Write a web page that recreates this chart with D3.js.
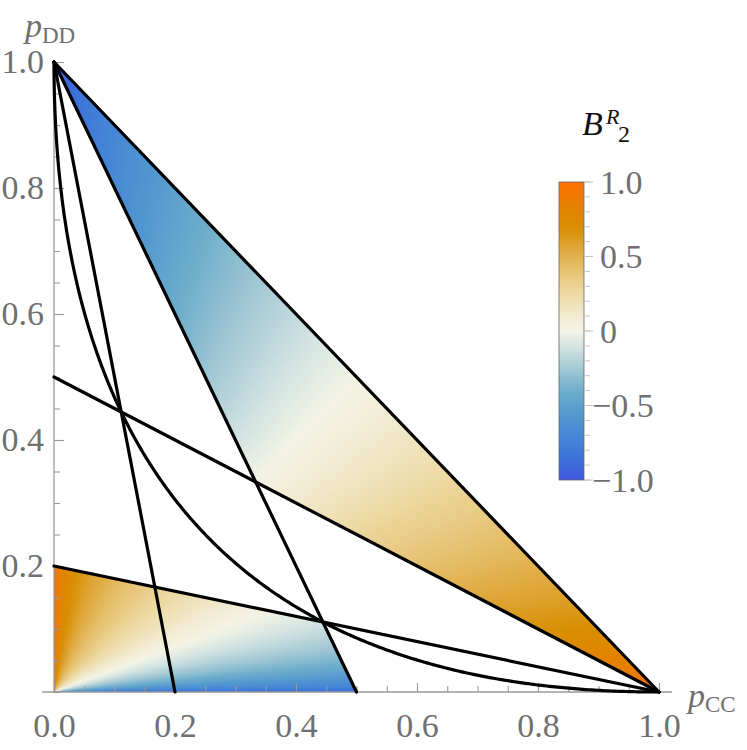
<!DOCTYPE html>
<html><head><meta charset="utf-8">
<script src="https://cdn.jsdelivr.net/npm/d3@7"></script>
<style>body{margin:0;background:#fff}svg{display:block}
svg text{font-family:"Liberation Serif","DejaVu Serif",serif !important}</style>
</head><body>
<svg id="chart" width="747" height="750"></svg>
<script>
// ---------- data ----------
const colorStops  = [-1, -0.85, -0.7, -0.55, -0.4, -0.25, -0.1, 0, 0.1, 0.25, 0.4, 0.55, 0.7, 0.85, 1];
const colorValues = ["#4157e0","#3d74da","#4688d5","#5499cf","#6faecb","#a4c9d5","#d6e5e2","#f3f3e5",
                     "#f2ebd2","#edd9a3","#e6c373","#dfa83c","#d88e00","#e67f00","#ff6e00"];
const boundaryLines = [
  {from: [0, 1],   to: [1, 0]},
  {from: [0, 1],   to: [0.5, 0]},
  {from: [0, 1],   to: [0.2, 0]},
  {from: [0, 0.5], to: [1, 0]},
  {from: [0, 0.2], to: [1, 0]}
];
const curveExponent = 0.5;            // boundary curve  pCC^e + pDD^e = 1
const upperRegion = [[0, 1], [1/3, 1/3], [1, 0]];
const lowerRegion = [[0, 0], [0, 0.2], [4/9, 1/9], [0.5, 0]];
const upperExponent = 0.8;
const lowerExponent = 0.63, lowerWeight = 0.52;
const xMajorTicks = [0, 0.2, 0.4, 0.6, 0.8, 1.0];
const xTickLabels = ["0.0", "0.2", "0.4", "0.6", "0.8", "1.0"];
const yMajorTicks = [0.2, 0.4, 0.6, 0.8, 1.0];
const yTickLabels = ["0.2", "0.4", "0.6", "0.8", "1.0"];
const minorStep = 0.05;
const legendTicks  = [-1, -0.5, 0, 0.5, 1];
const legendLabels = ["\u22121.0", "\u22120.5", "0", "0.5", "1.0"];
const legendMinorStep = 0.1;

// ---------- setup ----------
const svg = d3.select("#chart");
const W = 747, H = 750;
const x = d3.scaleLinear().domain([0, 1]).range([54, 659]);
const y = d3.scaleLinear().domain([0, 1]).range([692, 62]);
const color = d3.scaleLinear().domain(colorStops).range(colorValues).interpolate(d3.interpolateRgb).clamp(true);
const textGray = "#707070", axisGray = "#9a9a9a";

// ---------- field ----------
function fieldValue(px, py) {
  const a = Math.max(px, 1e-6), b = Math.max(py, 1e-6);
  if (a + b > 0.61) {
    const u = Math.pow(a, upperExponent), v = Math.pow(b, upperExponent);
    return (u - v) / (u + v);
  } else {
    const u = Math.pow(b, lowerExponent), v = lowerWeight * Math.pow(a, lowerExponent);
    return (u - v) / (u + v);
  }
}
const cv = document.createElement("canvas");
cv.width = W; cv.height = H;
const ctx = cv.getContext("2d");
const img = ctx.createImageData(W, H);
const x0 = Math.floor(x(0)) - 2, x1 = Math.ceil(x(1)) + 2;
const y0 = Math.floor(y(1)) - 2, y1 = Math.ceil(y(0)) + 2;
for (let py = y0; py < y1; py++) {
  for (let px = x0; px < x1; px++) {
    const dx = x.invert(px + 0.5), dy = y.invert(py + 0.5);
    const c = d3.rgb(color(fieldValue(dx, dy)));
    const i = (py * W + px) * 4;
    img.data[i] = c.r; img.data[i+1] = c.g; img.data[i+2] = c.b; img.data[i+3] = 255;
  }
}
ctx.putImageData(img, 0, 0);

const defs = svg.append("defs");
const clip = defs.append("clipPath").attr("id", "regions");
[upperRegion, lowerRegion].forEach(r => {
  clip.append("path").attr("d", "M" + r.map(p => [x(p[0]), y(p[1])].join(",")).join("L") + "Z");
});
svg.append("image")
  .attr("href", cv.toDataURL())
  .attr("x", 0).attr("y", 0).attr("width", W).attr("height", H)
  .attr("clip-path", "url(#regions)");

// ---------- axes ----------
const minorTicks = d3.range(0, 1 + 1e-9, minorStep);
const gx = svg.append("g").attr("transform", `translate(0,${y(0)})`);
gx.call(d3.axisBottom(x).tickValues(minorTicks).tickSizeInner(-6).tickSizeOuter(0).tickFormat(""));
gx.call(g => g.select(".domain").remove());
const gxMaj = svg.append("g").attr("transform", `translate(0,${y(0)})`)
  .call(d3.axisBottom(x).tickValues(xMajorTicks).tickSizeInner(-9).tickSizeOuter(0).tickPadding(21)
        .tickFormat((d, i) => xTickLabels[i]));
gxMaj.select(".domain").remove();

const gy = svg.append("g").attr("transform", `translate(${x(0)},0)`);
gy.call(d3.axisLeft(y).tickValues(minorTicks).tickSizeInner(-6).tickSizeOuter(0).tickFormat(""));
gy.select(".domain").remove();
const gyMaj = svg.append("g").attr("transform", `translate(${x(0)},0)`)
  .call(d3.axisLeft(y).tickValues(yMajorTicks).tickSizeInner(-10).tickSizeOuter(0).tickPadding(10)
        .tickFormat((d, i) => yTickLabels[i]));
gyMaj.select(".domain").remove();

svg.selectAll(".tick line").attr("stroke", axisGray).attr("stroke-width", 1.1);
svg.selectAll(".tick text").attr("fill", textGray).attr("font-size", 34);
svg.append("line").attr("x1", 42).attr("x2", 672).attr("y1", y(0)).attr("y2", y(0))
  .attr("stroke", axisGray).attr("stroke-width", 1.3);
svg.append("line").attr("x1", x(0)).attr("x2", x(0)).attr("y1", y(0) + 1).attr("y2", y(1))
  .attr("stroke", axisGray).attr("stroke-width", 1.3);

// ---------- boundary lines ----------
svg.append("g").selectAll("line").data(boundaryLines).join("line")
  .attr("x1", d => x(d.from[0])).attr("y1", d => y(d.from[1]))
  .attr("x2", d => x(d.to[0])).attr("y2", d => y(d.to[1]))
  .attr("stroke", "#000").attr("stroke-width", 3.2).attr("stroke-linecap", "round");
const tParam = d3.range(0, 1.0001, 0.0025);
const curvePts = tParam.map(t => [Math.pow(t, 1 / curveExponent), Math.pow(1 - t, 1 / curveExponent)]);
svg.append("path").datum(curvePts)
  .attr("d", d3.line().x(d => x(d[0])).y(d => y(d[1])))
  .attr("fill", "none").attr("stroke", "#000").attr("stroke-width", 3.2).attr("stroke-linecap", "round");

// ---------- axis titles ----------
const tDD = svg.append("text").attr("x", 25).attr("y", 37).attr("fill", textGray);
tDD.append("tspan").attr("font-style", "italic").attr("font-size", 34).text("p");
tDD.append("tspan").attr("font-size", 23).attr("dy", 6).text("DD");
const tCC = svg.append("text").attr("x", 688).attr("y", 707).attr("fill", textGray);
tCC.append("tspan").attr("font-style", "italic").attr("font-size", 34).text("p");
tCC.append("tspan").attr("font-size", 23).attr("dy", 5).text("CC");

// ---------- legend ----------
const lx = 559, lw = 25;
const ly = d3.scaleLinear().domain([-1, 1]).range([480, 182]);
const grad = defs.append("linearGradient").attr("id", "lg").attr("x1", 0).attr("x2", 0).attr("y1", 1).attr("y2", 0);
d3.range(0, 1.0001, 0.02).forEach(t => {
  grad.append("stop").attr("offset", t).attr("stop-color", color(-1 + 2 * t));
});
svg.append("rect").attr("x", lx).attr("y", ly(1)).attr("width", lw).attr("height", ly(-1) - ly(1))
  .attr("fill", "url(#lg)").attr("stroke", "#666").attr("stroke-width", 0.8);
const lMinor = d3.range(-1, 1.0001, legendMinorStep);
svg.append("g").selectAll("line").data(lMinor).join("line")
  .attr("x1", lx + lw).attr("x2", lx + lw + 6).attr("y1", d => ly(d)).attr("y2", d => ly(d))
  .attr("stroke", "#c4c4c4").attr("stroke-width", 1);
svg.append("g").selectAll("line").data(legendTicks).join("line")
  .attr("x1", lx + lw).attr("x2", lx + lw + 9).attr("y1", d => ly(d)).attr("y2", d => ly(d))
  .attr("stroke", "#c4c4c4").attr("stroke-width", 1);
svg.append("g").selectAll("text").data(legendTicks).join("text")
  .attr("x", d => d < 0 ? 592 : 600).attr("y", d => ly(d)).attr("dy", "0.34em")
  .attr("fill", textGray).attr("font-size", 34)
  .text((d, i) => legendLabels[i]);
const title = svg.append("text").attr("x", 582).attr("y", 135).attr("fill", "#111");
title.append("tspan").attr("font-style", "italic").attr("font-size", 34).text("B");
title.append("tspan").attr("font-style", "italic").attr("font-size", 22).attr("x", 606).attr("y", 124).text("R");
title.append("tspan").attr("font-size", 24).attr("x", 618).attr("y", 142).text("2");
</script>
</body></html>
